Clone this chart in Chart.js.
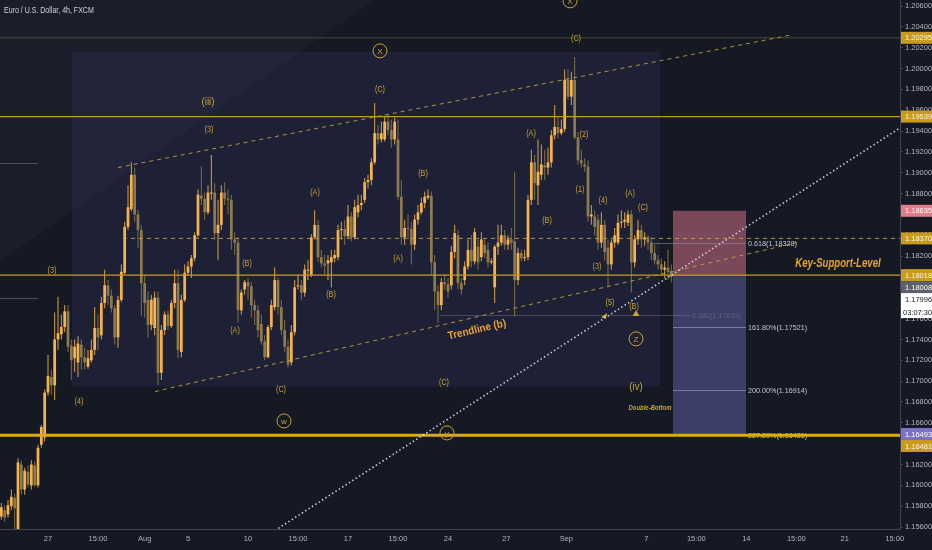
<!DOCTYPE html>
<html>
<head>
<meta charset="utf-8">
<script src="https://cdn.jsdelivr.net/npm/chart.js@4.4.1/dist/chart.umd.min.js"></script>
<style>
html,body{margin:0;padding:0;background:#151924;overflow:hidden;}
canvas{display:block;}
</style>
</head>
<body>
<canvas id="c" width="932" height="550" style="width:932px;height:550px"></canvas>
<script>
// ---------------- DATA ----------------
const chartTitle = 'Euro / U.S. Dollar, 4h, FXCM';
const firstBar = -14; // bar index of first candle (0 = 27 Jul 00:00, 4h bars, weekdays only)

const open = [
1.1570,1.1576,1.1572,1.1580,1.1588,1.1557,1.1620,1.1596,1.1613,1.1600,
1.1619,1.1600,1.1639,1.1646,1.1689,1.1704,1.1696,1.1740,1.1745,1.1752,
1.1767,1.1734,1.1722,1.1718,1.1735,1.1723,1.1714,1.1720,1.1730,1.1751,
1.1744,1.1775,1.1792,1.1782,1.1770,1.1742,1.1778,1.1804,1.1848,1.1865,
1.1898,1.1860,1.1845,1.1794,1.1778,1.1754,1.1751,1.1780,1.1708,1.1749,
1.1764,1.1753,1.1775,1.1794,1.1728,1.1778,1.1804,1.1810,1.1818,1.1840,
1.1878,1.1875,1.1862,1.1880,1.1881,1.1842,1.1850,1.1881,1.1875,1.1874,
1.1836,1.1833,1.1768,1.1788,1.1795,1.1791,1.1773,1.1768,1.1755,1.1738,
1.1723,1.1752,1.1771,1.1797,1.1771,1.1749,1.1733,1.1718,1.1747,1.1791,
1.1792,1.1785,1.1806,1.1802,1.1838,1.1850,1.1819,1.1813,1.1813,1.1814,
1.1818,1.1819,1.1845,1.1846,1.1839,1.1858,1.1838,1.1862,1.1869,1.1874,
1.1891,1.1893,1.1910,1.1938,1.1932,1.1932,1.1949,1.1941,1.1932,1.1932,
1.1877,1.1838,1.1847,1.1846,1.1831,1.1855,1.1862,1.1871,1.1876,1.1878,
1.1814,1.1786,1.1773,1.1795,1.1793,1.1792,1.1824,1.1840,1.1794,1.1797,
1.1810,1.1826,1.1815,1.1829,1.1819,1.1831,1.1826,1.1814,1.1790,1.1829,
1.1833,1.1840,1.1831,1.1836,1.1834,1.1797,1.1823,1.1818,1.1819,1.1874,
1.1910,1.1888,1.1898,1.1907,1.1905,1.1910,1.1936,1.1944,1.1938,1.1942,
1.1989,1.1973,1.1989,1.1934,1.1912,1.1908,1.1906,1.1858,1.1858,1.1855,
1.1833,1.1850,1.1828,1.1812,1.1833,1.1833,1.1852,1.1853,1.1852,1.1860,
1.1814,1.1836,1.1845,1.1836,1.1838,1.1833,1.1823,1.1816,1.1812,1.1807,
1.1809,1.1805];
const close = [
1.1579,1.1569,1.1581,1.1589,1.1578,1.1622,1.1596,1.1614,1.1601,1.1620,
1.1600,1.1636,1.1656,1.1689,1.1705,1.1696,1.1740,1.1746,1.1752,1.1767,
1.1733,1.1720,1.1733,1.1736,1.1723,1.1718,1.1722,1.1730,1.1751,1.1742,
1.1775,1.1792,1.1782,1.1770,1.1742,1.1778,1.1805,1.1848,1.1867,1.1898,
1.1860,1.1845,1.1794,1.1775,1.1754,1.1778,1.1780,1.1708,1.1749,1.1764,
1.1753,1.1775,1.1794,1.1730,1.1778,1.1804,1.1810,1.1818,1.1840,1.1879,
1.1875,1.1862,1.1881,1.1881,1.1842,1.1850,1.1881,1.1875,1.1874,1.1836,
1.1833,1.1768,1.1785,1.1795,1.1791,1.1773,1.1768,1.1749,1.1738,1.1723,
1.1752,1.1773,1.1797,1.1771,1.1749,1.1733,1.1716,1.1747,1.1790,1.1792,
1.1785,1.1807,1.1807,1.1838,1.1850,1.1819,1.1813,1.1811,1.1816,1.1819,
1.1821,1.1845,1.1846,1.1839,1.1858,1.1838,1.1867,1.1869,1.1871,1.1891,
1.1893,1.1910,1.1938,1.1932,1.1938,1.1949,1.1941,1.1932,1.1949,1.1877,
1.1838,1.1847,1.1846,1.1831,1.1855,1.1862,1.1871,1.1877,1.1878,1.1814,
1.1786,1.1773,1.1795,1.1793,1.1786,1.1824,1.1842,1.1794,1.1788,1.1810,
1.1826,1.1815,1.1843,1.1814,1.1836,1.1823,1.1814,1.1815,1.1829,1.1833,
1.1840,1.1831,1.1836,1.1833,1.1797,1.1823,1.1818,1.1819,1.1874,1.1910,
1.1890,1.1901,1.1908,1.1905,1.1910,1.1936,1.1944,1.1938,1.1942,1.1989,
1.1973,1.1989,1.1934,1.1912,1.1909,1.1906,1.1858,1.1860,1.1848,1.1833,
1.1850,1.1824,1.1812,1.1833,1.1840,1.1852,1.1853,1.1855,1.1860,1.1814,
1.1836,1.1845,1.1836,1.1838,1.1833,1.1823,1.1816,1.1812,1.1807,1.1809,
1.1805,1.1800];
const high = [
1.1583,1.1581,1.1586,1.1596,1.1592,1.1626,1.1624,1.1617,1.1619,1.1624,
1.1623,1.1639,1.1658,1.1692,1.1725,1.1711,1.1766,1.1781,1.1764,1.1773,
1.1773,1.1740,1.1740,1.1743,1.1740,1.1732,1.1730,1.1740,1.1771,1.1764,
1.1781,1.1807,1.1797,1.1788,1.1773,1.1782,1.1812,1.1853,1.1888,1.1910,
1.1905,1.1864,1.1850,1.1802,1.1786,1.1783,1.1786,1.1786,1.1754,1.1767,
1.1768,1.1778,1.1807,1.1807,1.1783,1.1812,1.1815,1.1821,1.1843,1.1884,
1.1906,1.1881,1.1888,1.1917,1.1890,1.1874,1.1888,1.1891,1.1884,1.1879,
1.1843,1.1838,1.1788,1.1797,1.1799,1.1795,1.1778,1.1773,1.1764,1.1744,
1.1754,1.1778,1.1809,1.1799,1.1778,1.1759,1.1740,1.1754,1.1797,1.1802,
1.1797,1.1812,1.1816,1.1841,1.1864,1.1855,1.1826,1.1821,1.1821,1.1826,
1.1826,1.1850,1.1853,1.1855,1.1869,1.1862,1.1874,1.1879,1.1879,1.1895,
1.1898,1.1914,1.1967,1.1946,1.1949,1.1954,1.1956,1.1951,1.1953,1.1951,
1.1893,1.1855,1.1860,1.1853,1.1860,1.1869,1.1876,1.1882,1.1884,1.1882,
1.1821,1.1792,1.1799,1.1802,1.1799,1.1830,1.1850,1.1845,1.1799,1.1815,
1.1836,1.1840,1.1847,1.1836,1.1843,1.1836,1.1833,1.1818,1.1831,1.1850,
1.1850,1.1845,1.1840,1.1847,1.1901,1.1828,1.1826,1.1826,1.1879,1.1922,
1.1917,1.1932,1.1927,1.1922,1.1924,1.1941,1.1965,1.1953,1.1951,1.1999,
1.1999,1.1997,1.2011,1.1939,1.1922,1.1914,1.1912,1.1869,1.1864,1.1860,
1.1862,1.1855,1.1836,1.1836,1.1847,1.1860,1.1864,1.1862,1.1864,1.1864,
1.1840,1.1855,1.1850,1.1843,1.1840,1.1838,1.1831,1.1821,1.1818,1.1815,
1.1826,1.1812];
const low = [
1.1567,1.1565,1.1569,1.1576,1.1557,1.1552,1.1591,1.1591,1.1598,1.1596,
1.1599,1.1598,1.1636,1.1642,1.1686,1.1687,1.1682,1.1730,1.1740,1.1747,
1.1728,1.1701,1.1709,1.1704,1.1711,1.1711,1.1712,1.1718,1.1725,1.1730,
1.1740,1.1770,1.1773,1.1766,1.1735,1.1732,1.1776,1.1802,1.1845,1.1863,
1.1853,1.1828,1.1763,1.1761,1.1742,1.1749,1.1744,1.1696,1.1701,1.1744,
1.1749,1.1751,1.1770,1.1722,1.1723,1.1776,1.1801,1.1799,1.1815,1.1838,
1.1869,1.1855,1.1860,1.1874,1.1836,1.1816,1.1845,1.1869,1.1860,1.1826,
1.1821,1.1756,1.1764,1.1783,1.1778,1.1761,1.1754,1.1742,1.1735,1.1720,
1.1722,1.1749,1.1768,1.1764,1.1744,1.1728,1.1713,1.1715,1.1744,1.1788,
1.1778,1.1781,1.1797,1.1800,1.1836,1.1814,1.1809,1.1802,1.1797,1.1790,
1.1814,1.1816,1.1836,1.1831,1.1837,1.1834,1.1836,1.1857,1.1864,1.1871,
1.1885,1.1888,1.1908,1.1927,1.1929,1.1930,1.1936,1.1924,1.1927,1.1874,
1.1831,1.1831,1.1836,1.1812,1.1826,1.1850,1.1860,1.1866,1.1874,1.1802,
1.1768,1.1756,1.1768,1.1788,1.1780,1.1788,1.1818,1.1788,1.1783,1.1792,
1.1807,1.1809,1.1812,1.1807,1.1815,1.1818,1.1809,1.1812,1.1775,1.1821,
1.1830,1.1826,1.1826,1.1826,1.1762,1.1792,1.1815,1.1815,1.1816,1.1869,
1.1874,1.1869,1.1893,1.1893,1.1898,1.1905,1.1932,1.1933,1.1936,1.1939,
1.1970,1.1965,1.1932,1.1908,1.1905,1.1901,1.1853,1.1850,1.1840,1.1826,
1.1828,1.1816,1.1790,1.1807,1.1828,1.1831,1.1847,1.1847,1.1849,1.1785,
1.1809,1.1831,1.1828,1.1830,1.1826,1.1816,1.1812,1.1807,1.1802,1.1799,
1.1797,1.1795];

// axes
const xRange = [-14.4, 255.6];
const yRange = [1.15581, 1.20658];
const xTickBars = [0, 15, 29, 42, 60, 75, 90, 105, 120, 137.5, 155.5, 179.5, 194.5, 209.5, 224.5, 239, 254];
const xTickText = ['27','15:00','Aug','5','10','15:00','17','15:00','24','27','Sep','7','15:00','14','15:00','21','15:00'];
const yTickValues = [1.156,1.158,1.160,1.162,1.164,1.166,1.168,1.170,1.172,1.174,1.176,1.178,1.180,1.182,1.184,1.186,1.188,1.190,1.192,1.194,1.196,1.198,1.200,1.202,1.204,1.206];

// drawings (bar index, price)
const keyLevels = [1.20295, 1.19539, 1.18018, 1.16481];
const dashedLevel = [[22.5, 1.18370], [255.6, 1.18370]];
const channelUpper = [[21, 1.1905], [222.6, 1.2032]];
const channelLower = [[32.1, 1.1690], [224.7, 1.1833]];
const dottedTrend = [[60, 1.1540], [255.6, 1.1943]];
const patternBox = [7.2, 183.6, 1.16945, 1.20161];
const wedgeBar = [-14.4, 97.8, -14.4];
const wedgePrice = [1.20658, 1.20658, 1.1815];
const leftBoxBar = [-14.4, -3];
const leftBoxPrice = [1.19095, 1.17799];
const stopZone = [187.5, 209.4, 1.18008, 1.18635];
const targetZone = [187.5, 209.4, 1.16493, 1.18008];

const fibText  = ['0.618(1.18328)','0.382(1.17639)','161.80%(1.17521)','200.00%(1.16914)','227.20%(1.16481)'];
const fibPrice = [1.18328, 1.17639, 1.17521, 1.16914, 1.16481];
const fibFrom  = [181.2, 117.6, 187.5, 187.5, 187.5];
const fibTo    = [209.4, 192.6, 209.4, 209.4, 209.4];

const waveText  = ['(iii)','(3)','(3)','(4)','(A)','(B)','(A)','(C)','(B)','(C)','(B)','(A)','(C)','(C)','(A)','(B)','(2)','(1)','(4)','(A)','(C)','(3)','(5)','(B)','(iv)'];
const waveBar   = [48.0, 48.3, 1.2, 9.3, 80.1, 59.7, 56.1, 69.9, 84.9, 99.6, 112.5, 105, 118.8, 158.4, 144.9, 149.7, 160.8, 159.6, 166.5, 174.6, 178.5, 164.7, 168.6, 175.8, 176.4];
const wavePrice = [1.19681, 1.19412, 1.18058, 1.16801, 1.18807, 1.18126, 1.17482, 1.16916, 1.17828, 1.19796, 1.18990, 1.18174, 1.16983, 1.20286, 1.19374, 1.18538, 1.19364, 1.18836, 1.18730, 1.18798, 1.18663, 1.18097, 1.17751, 1.17713, 1.16945];

const circleText  = ['X','X','w','y','Z'];
const circleBar   = [99.6, 156.6, 70.8, 119.7, 176.4];
const circlePrice = [1.20170, 1.20650, 1.16618, 1.16503, 1.17406];

const noteText  = ['Trendline (b)', 'Key-Support-Level', 'Double-Bottom'];
const noteBar   = [128.7, 237, 180.6];
const notePrice = [1.17492, 1.18126, 1.16743];

const markerBar = [176.4, 167.1];
const markerPrice = [1.17655, 1.1763];

const tagPrice = [1.20295, 1.19539, 1.18635, 1.18370, 1.18018, 1.18008, 1.17996, 1.16493, 1.16481];
const tagKind  = ['level','level','stop','level','level','entry','last','target','level'];
const countdownText = '03:07:30';

// ---------------- CHART ----------------
const FONT = "'Liberation Sans',sans-serif";
const GOLD = '#c9a42e';
Chart.defaults.font.family = FONT;

const bars = open.map((_, k) => firstBar + k);
const isUp = close.map((c, k) => c >= open[k]);
const wickData = bars.map((b, k) => ({x: b, y: [Math.min(low[k], open[k], close[k]), Math.max(high[k], open[k], close[k])]}));
const bodyData = bars.map((b, k) => ({x: b, y: [Math.min(open[k], close[k]), Math.max(open[k], close[k])]}));

const pts = arr => arr.map(([x, y]) => ({x, y}));
const lineDs = (data, color, width, dash, order) => ({
  type: 'line', data, borderColor: color, borderWidth: width, borderDash: dash,
  pointRadius: 0, fill: false, tension: 0, order
});

const levelColors = ['rgba(190,160,80,0.35)', '#c49a2a', '#c49a2a', '#dca91d'];
const levelWidths = [1, 1.4, 1.4, 3];

const datasets = [
  {type: 'bar', data: wickData, backgroundColor: isUp.map(u => u ? '#d8a14a' : '#7e6f4b'),
   maxBarThickness: 1, grouped: false, minBarLength: 1, order: 11},
  {type: 'bar', data: bodyData, backgroundColor: isUp.map(u => u ? '#f6b24c' : '#8c7b4f'),
   grouped: false, minBarLength: 1, barPercentage: 0.92, categoryPercentage: 0.9, order: 10},
  ...keyLevels.map((p, k) => lineDs([{x: xRange[0], y: p}, {x: xRange[1], y: p}], levelColors[k], levelWidths[k], [], 2)),
  lineDs(pts(dashedLevel), 'rgba(205,168,60,0.85)', 1, [4, 4], 3),
  lineDs(pts(channelUpper), 'rgba(205,168,60,0.85)', 1, [4, 4], 3),
  lineDs(pts(channelLower), 'rgba(205,168,60,0.85)', 1, [4, 4], 3),
  lineDs(pts(dottedTrend), 'rgba(215,220,240,0.9)', 1.6, [1.5, 2.5], 1)
];

function narrowText(c, t, x, y, sx) {
  c.save(); c.translate(x, y); c.scale(sx, 1); c.fillText(t, 0, 0); c.restore();
}

const overlay = {
  id: 'overlay',
  beforeDraw(chart) {
    const c = chart.ctx;
    c.save(); c.fillStyle = '#151924'; c.fillRect(0, 0, chart.width, chart.height); c.restore();
  },
  beforeDatasetsDraw(chart) {
    const c = chart.ctx, a = chart.chartArea;
    const X = v => chart.scales.x.getPixelForValue(v), Y = v => chart.scales.y.getPixelForValue(v);
    c.save();
    c.beginPath(); c.rect(a.left, a.top, a.right - a.left, a.bottom - a.top); c.clip();
    // light wedge
    c.beginPath();
    wedgeBar.forEach((b, k) => { const px = X(b), py = Y(wedgePrice[k]); k ? c.lineTo(px, py) : c.moveTo(px, py); });
    c.closePath(); c.fillStyle = 'rgba(130,130,190,0.045)'; c.fill();
    // pattern box
    c.fillStyle = 'rgba(75,72,140,0.17)';
    c.fillRect(X(patternBox[0]), Y(patternBox[3]), X(patternBox[1]) - X(patternBox[0]), Y(patternBox[2]) - Y(patternBox[3]));
    // left box lines
    c.strokeStyle = 'rgba(140,145,165,0.45)'; c.lineWidth = 1;
    leftBoxPrice.forEach(p => { const yy = Math.round(Y(p)) + 0.5; c.beginPath(); c.moveTo(X(leftBoxBar[0]), yy); c.lineTo(X(leftBoxBar[1]), yy); c.stroke(); });
    // position zones
    c.fillStyle = '#7a4858';
    c.fillRect(X(stopZone[0]), Y(stopZone[3]), X(stopZone[1]) - X(stopZone[0]), Y(stopZone[2]) - Y(stopZone[3]));
    c.fillStyle = '#3d3e67';
    c.fillRect(X(targetZone[0]), Y(targetZone[3]), X(targetZone[1]) - X(targetZone[0]), Y(targetZone[2]) - Y(targetZone[3]));
    // fib lines + labels
    fibText.forEach((t, k) => {
      const yy = Math.round(Y(fibPrice[k])) + 0.5;
      c.strokeStyle = k === 1 ? 'rgba(110,115,135,0.5)' : (k >= 2 ? 'rgba(150,150,200,0.7)' : 'rgba(140,142,160,0.55)');
      c.lineWidth = 1;
      c.beginPath(); c.moveTo(X(fibFrom[k]), yy); c.lineTo(X(fibTo[k]), yy); c.stroke();
      c.fillStyle = k === 1 ? '#5e6275' : '#c3c6cf';
      c.font = '8px ' + FONT; c.textAlign = 'left'; c.textBaseline = 'middle';
      narrowText(c, t, X(fibTo[k]) + 2, yy, 0.9);
    });
    c.restore();
  },
  afterDatasetsDraw(chart) {
    const c = chart.ctx, a = chart.chartArea;
    const X = v => chart.scales.x.getPixelForValue(v), Y = v => chart.scales.y.getPixelForValue(v);
    c.save();
    c.beginPath(); c.rect(a.left, a.top, a.right - a.left, a.bottom - a.top); c.clip();
    c.textAlign = 'center'; c.textBaseline = 'middle';
    waveText.forEach((t, k) => {
      const big = t === '(iii)' || t === '(iv)';
      c.font = (big ? '11.5px ' : '8.5px ') + FONT;
      c.fillStyle = GOLD;
      narrowText(c, t, X(waveBar[k]), Y(wavePrice[k]), 0.85);
    });
    circleText.forEach((t, k) => {
      const cx = X(circleBar[k]), cy = Y(circlePrice[k]);
      c.beginPath(); c.arc(cx, cy, 7, 0, Math.PI * 2);
      c.strokeStyle = GOLD; c.lineWidth = 1; c.stroke();
      c.fillStyle = GOLD; c.font = '8px ' + FONT;
      c.fillText(t, cx, cy + 0.5);
    });
    // Trendline (b) label along the lower channel
    const ang = Math.atan2(Y(channelLower[1][1]) - Y(channelLower[0][1]), X(channelLower[1][0]) - X(channelLower[0][0]));
    c.save();
    c.translate(X(noteBar[0]), Y(notePrice[0])); c.rotate(ang);
    c.font = "bold 11px " + FONT; c.fillStyle = '#eaa238';
    c.scale(0.9, 1);
    c.fillText(noteText[0], 0, 0);
    c.restore();
    c.font = "italic bold 12px " + FONT; c.fillStyle = '#e6a51c';
    narrowText(c, noteText[1], X(noteBar[1]), Y(notePrice[1]), 0.8);
    c.font = "italic bold 7px " + FONT; c.fillStyle = GOLD;
    narrowText(c, noteText[2], X(noteBar[2]), Y(notePrice[2]), 0.85);
    // markers
    let mx = X(markerBar[0]), my = Y(markerPrice[0]);
    c.fillStyle = GOLD; c.beginPath(); c.moveTo(mx, my - 3); c.lineTo(mx + 3.5, my + 3); c.lineTo(mx - 3.5, my + 3); c.closePath(); c.fill();
    mx = X(markerBar[1]); my = Y(markerPrice[1]);
    c.fillStyle = '#d9b34a'; c.beginPath(); c.moveTo(mx - 4, my + 2); c.lineTo(mx + 2, my - 2.5); c.lineTo(mx + 1, my + 3); c.closePath(); c.fill();
    c.restore();
  },
  afterDraw(chart) {
    const c = chart.ctx, a = chart.chartArea;
    const Y = v => chart.scales.y.getPixelForValue(v);
    c.save();
    // title
    c.font = '9px ' + FONT; c.fillStyle = '#d1d4dc'; c.textAlign = 'left'; c.textBaseline = 'middle';
    narrowText(c, chartTitle, 4, 11, 0.78);
    // price tags on axis
    const style = {
      level:  ['#c89b1e', '#fff6dc'],
      stop:   ['#e27c86', '#ffffff'],
      entry:  ['#5d606b', '#ffffff'],
      last:   ['#ffffff', '#131722'],
      target: ['#7d71c6', '#ffffff']
    };
    const items = tagPrice.map((p, k) => ({p, kind: tagKind[k], y: Y(p)})).sort((u, v) => u.y - v.y || v.p - u.p);
    let prevBottom = -1e9;
    const h = 12, x0 = a.right + 1, w = chart.width - x0;
    c.font = '7.5px ' + FONT; c.textBaseline = 'middle';
    items.forEach(it => {
      let top = it.y - h / 2;
      if (top < prevBottom) top = prevBottom;
      const rows = it.kind === 'last' ? 2 : 1;
      const [bg, fg] = style[it.kind];
      c.fillStyle = bg; c.fillRect(x0, top, w, h * rows + (rows - 1));
      c.fillStyle = fg;
      c.fillText(it.p.toFixed(5), x0 + 4, top + h / 2 + 0.5);
      if (rows === 2) c.fillText(countdownText, x0 + 2, top + h * 1.5 + 1.5);
      prevBottom = top + h * rows + (rows - 1);
    });
    c.restore();
  }
};

new Chart(document.getElementById('c'), {
  type: 'bar',
  data: {datasets},
  options: {
    responsive: false,
    animation: false,
    events: [],
    layout: {padding: 0},
    plugins: {legend: {display: false}, tooltip: {enabled: false}, title: {display: false}},
    scales: {
      x: {
        type: 'linear', position: 'bottom', min: xRange[0], max: xRange[1], offset: false,
        afterBuildTicks: s => { s.ticks = xTickBars.map(v => ({value: v})); },
        afterFit: s => { s.height = 21; s.paddingLeft = 0; s.paddingRight = 0; },
        ticks: {autoSkip: false, maxRotation: 0, minRotation: 0, color: '#b2b5be', font: {size: 7.5}, padding: 5,
                callback: (v, i) => xTickText[i]},
        grid: {display: true, offset: false, drawOnChartArea: false, drawTicks: false, color: '#434651'},
        border: {display: true, color: '#434651'}
      },
      y: {
        type: 'linear', position: 'right', min: yRange[0], max: yRange[1],
        afterBuildTicks: s => { s.ticks = yTickValues.map(v => ({value: v})); },
        afterFit: s => { s.width = 32; s.paddingTop = 0; s.paddingBottom = 0; },
        ticks: {color: '#b2b5be', font: {size: 7.5}, padding: 2, callback: v => Number(v).toFixed(5)},
        grid: {display: true, drawOnChartArea: false, drawTicks: true, tickLength: 3, color: '#434651'},
        border: {display: true, color: '#434651'}
      }
    }
  },
  plugins: [overlay]
});
</script>
</body>
</html>
